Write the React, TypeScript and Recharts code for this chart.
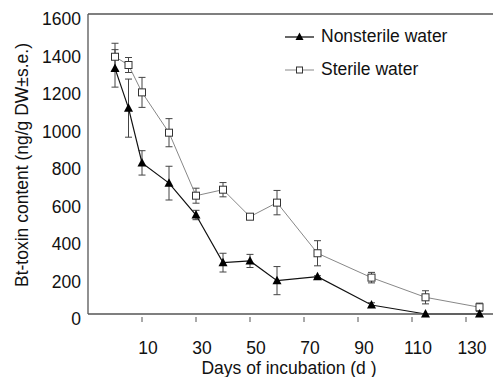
import {
  ErrorBar,
  Line,
  LineChart,
  ReferenceLine,
  XAxis,
  YAxis,
} from "recharts";

const days = [0, 5, 10, 20, 30, 40, 50, 60, 75, 95, 115, 135];
const nonsterile = [1310, 1098, 806, 698, 528, 274, 283, 178, 199, 48, 0, 0];
const nonsterileErr = [100, 155, 65, 90, 25, 50, 35, 75, 5, 12, 0, 0];
const sterile = [1372, 1328, 1182, 967, 631, 663, 519, 594, 324, 194, 89, 36];
const sterileErr = [72, 40, 80, 75, 40, 38, 10, 65, 67, 28, 35, 22];
const xTicks = [10, 30, 50, 70, 90, 110, 130];
const yTicks = [0, 200, 400, 600, 800, 1000, 1200, 1400, 1600];

const data = days.map((d, i) => ({
  day: d,
  ns: nonsterile[i],
  nsErr: nonsterileErr[i],
  st: sterile[i],
  stErr: sterileErr[i],
}));

const font = "'Liberation Sans', Arial, sans-serif";
const axisColor = "#555";

const Triangle = (props: any) => {
  const { cx, cy } = props;
  if (cx == null || cy == null) return null;
  return (
    <path
      d={`M${cx},${cy - 5} L${cx + 4.5},${cy + 3.5} L${cx - 4.5},${cy + 3.5} Z`}
      fill="#000"
    />
  );
};

const Square = (props: any) => {
  const { cx, cy } = props;
  if (cx == null || cy == null) return null;
  return (
    <rect x={cx - 3.5} y={cy - 3.5} width={7} height={7} fill="#fff" stroke="#333" strokeWidth={1} />
  );
};

const XTick = (props: any) => {
  const { x, y, payload } = props;
  return (
    <g>
      <line x1={x} y1={y} x2={x} y2={y - 5} stroke={axisColor} />
      <text x={x + 6} y={y + 26} dy="0.355em" textAnchor="middle" fontSize={17.5} fontFamily={font} fill="#111">
        {payload.value}
      </text>
    </g>
  );
};

const YTick = (props: any) => {
  const { x, y, payload } = props;
  return (
    <text x={x + 1} y={y + 5} dy="0.355em" textAnchor="end" fontSize={17.5} fontFamily={font} fill="#111">
      {payload.value}
    </text>
  );
};

const LegendBox = () => (
  <div
    style={{
      position: "absolute",
      left: 285,
      top: 20,
      fontFamily: font,
      fontSize: 17.5,
      color: "#111",
    }}
  >
    <div style={{ display: "flex", alignItems: "center", height: 33 }}>
      <svg width={36} height={12}>
        <line x1={0} y1={6} x2={29} y2={6} stroke="#000" strokeWidth={1.2} />
        <path d="M14.5,1.5 L18.5,9 L10.5,9 Z" fill="#000" />
      </svg>
      <span>Nonsterile water</span>
    </div>
    <div style={{ display: "flex", alignItems: "center", height: 33 }}>
      <svg width={36} height={12}>
        <line x1={0} y1={6} x2={29} y2={6} stroke="#888" strokeWidth={1} />
        <rect x={11.5} y={3} width={6} height={6} fill="#fff" stroke="#333" />
      </svg>
      <span>Sterile water</span>
    </div>
  </div>
);

export default function App() {
  return (
    <div style={{ position: "absolute", left: 0, top: 0, width: 494, height: 377, background: "#fff" }}>
      <LineChart
        width={494}
        height={377}
        data={data}
        margin={{ top: 14, right: 1, bottom: 0, left: 0 }}
      >
        <XAxis
          dataKey="day"
          type="number"
          domain={[-10, 140]}
          ticks={xTicks}
          allowDataOverflow
          height={63}
          axisLine={{ stroke: axisColor, strokeWidth: 1.3 }}
          tickLine={false}
          tick={<XTick />}
          label={{
            content: () => (
              <text x={289} y={368} dy="0.355em" textAnchor="middle" fontSize={17.5} fontFamily={font} fill="#111">
                Days of incubation (d )
              </text>
            ),
          }}
        />
        <YAxis
          type="number"
          domain={[0, 1600]}
          ticks={yTicks}
          width={88}
          axisLine={{ stroke: axisColor, strokeWidth: 1.3 }}
          tickLine={false}
          tick={<YTick />}
          label={{
            content: () => (
              <text
                x={22}
                y={165}
                dy="0.355em"
                textAnchor="middle"
                fontSize={17.5}
                fontFamily={font}
                fill="#111"
                transform="rotate(-90 22 165)"
              >
                Bt-toxin content (ng/g DW±s.e.)
              </text>
            ),
          }}
        />
        <ReferenceLine y={1600} stroke={axisColor} strokeWidth={1.3} />
        <Line
          dataKey="st"
          stroke="#888"
          strokeWidth={1}
          dot={<Square />}
          activeDot={false}
          isAnimationActive={false}
        >
          <ErrorBar dataKey="stErr" width={3.5} stroke="#444" strokeWidth={1} direction="y" />
        </Line>
        <Line
          dataKey="ns"
          stroke="#111"
          strokeWidth={1.2}
          dot={<Triangle />}
          activeDot={false}
          isAnimationActive={false}
        >
          <ErrorBar dataKey="nsErr" width={3.5} stroke="#444" strokeWidth={1} direction="y" />
        </Line>
      </LineChart>
      <LegendBox />
    </div>
  );
}
